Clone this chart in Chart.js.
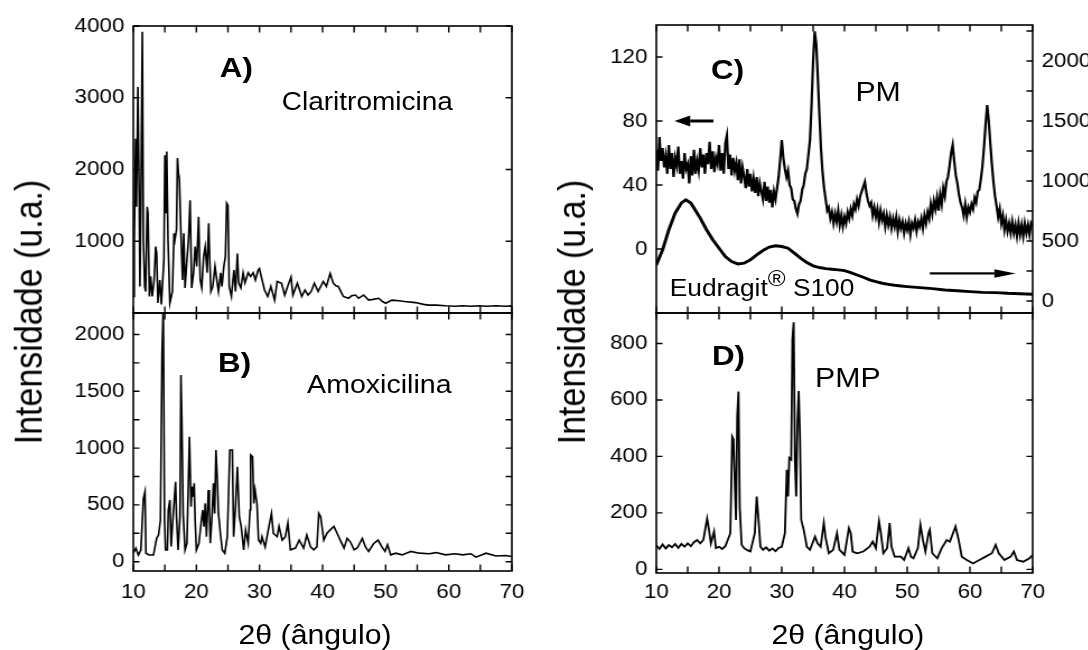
<!DOCTYPE html>
<html lang="pt">
<head>
<meta charset="utf-8">
<title>Difratogramas de raios X</title>
<script src="https://cdn.jsdelivr.net/npm/chart.js@4.4.1/dist/chart.umd.min.js"></script>
<style>
html,body{margin:0;padding:0;background:#fff;width:1088px;height:650px;overflow:hidden;}
#stage{position:absolute;left:0;top:0;width:972px;height:650px;transform:scaleX(1.12);transform-origin:0 0;}
canvas{position:absolute;}
.t{position:absolute;font-family:"Liberation Sans",Arial,sans-serif;color:#000;white-space:nowrap;line-height:1;transform:translate(-50%,-50%);}
.b{font-weight:bold;}
.rot{transform:translate(-50%,-50%) rotate(-90deg);}
.sup{position:relative;top:-0.42em;font-size:0.92em;}
</style>
</head>
<body>
<div id="stage">
  <canvas id="cA"></canvas>
  <canvas id="cB"></canvas>
  <canvas id="cC"></canvas>
  <canvas id="cD"></canvas>

  <div class="t b" style="left:211px;top:68px;font-size:28px">A)</div>
  <div class="t" style="left:328px;top:101px;font-size:25px">Claritromicina</div>
  <div class="t b" style="left:209.5px;top:363px;font-size:28px">B)</div>
  <div class="t" style="left:338.7px;top:384.5px;font-size:25.5px">Amoxicilina</div>
  <div class="t b" style="left:649.6px;top:70px;font-size:28px">C)</div>
  <div class="t" style="left:784px;top:92px;font-size:27px">PM</div>
  <div class="t" style="left:680.4px;top:288.5px;font-size:23.5px">Eudragit<span class="sup">®</span> S100</div>
  <div class="t b" style="left:650.4px;top:356px;font-size:28px">D)</div>
  <div class="t" style="left:757px;top:378px;font-size:27px">PMP</div>

  <div class="t rot" style="left:24.8px;top:311.5px;font-size:34px">Intensidade (u.a.)</div>
  <div class="t rot" style="left:509.7px;top:311.5px;font-size:34px">Intensidade (u.a.)</div>
  <div class="t" style="left:281.3px;top:634.5px;font-size:27px">2θ (ângulo)</div>
  <div class="t" style="left:757.1px;top:634.5px;font-size:27px">2θ (ângulo)</div>
</div>

<script>
// ---------------- data ----------------
const xTicks = [10, 15, 20, 25, 30, 35, 40, 45, 50, 55, 60, 65, 70];
const xTickLabels = [10, 20, 30, 40, 50, 60, 70];
const yTicksA  = [0, 1000, 2000, 3000, 4000];
const yLabelsA = [1000, 2000, 3000, 4000];
const yTicksB  = [0, 250, 500, 750, 1000, 1250, 1500, 1750, 2000];
const yLabelsB = [0, 500, 1000, 1500, 2000];
const yTicksCL  = [-40, 0, 40, 80, 120];
const yLabelsCL = [0, 40, 80, 120];
const yTicksCR  = [0, 250, 500, 750, 1000, 1250, 1500, 1750, 2000, 2250];
const yLabelsCR = [0, 500, 1000, 1500, 2000];
const yTicksD  = [0, 200, 400, 600, 800];
const yLabelsD = [0, 200, 400, 600, 800];

// A) Claritromicina
const claritroX = [
  10.0,10.15,10.37,10.5,10.73,10.94,11.05,11.2,11.43,11.6,
  11.8,11.95,12.2,12.33,12.55,12.75,13.0,13.3,13.55,13.7,
  13.9,14.2,14.45,14.85,15.0,15.15,15.3,15.5,15.8,16.2,
  16.45,16.6,16.85,17.0,17.15,17.3,17.55,17.8,18.0,18.2,
  18.5,18.75,19.0,19.25,19.55,19.8,20.05,20.35,20.6,20.85,
  21.15,21.4,21.7,21.95,22.1,22.3,22.6,22.95,23.3,23.5,
  23.85,24.05,24.35,24.6,24.8,25.0,25.2,25.55,25.95,26.2,
  26.5,26.7,27.05,27.4,27.7,28.2,28.6,29.0,29.35,29.8,
  30.0,30.3,30.8,31.3,31.8,32.4,32.8,33.5,34.0,34.5,
  35.0,35.3,36.0,36.7,37.2,37.7,38.2,38.7,39.3,40.1,
  40.6,41.2,41.7,42.1,42.5,43.0,43.3,44.1,44.6,45.2,
  45.7,46.5,47.3,48.0,48.9,49.5,50.0,51.0,52.1,53.0,
  54.7,56.0,56.8,58.0,59.5,61.0,62.2,63.5,64.8,66.0,
  67.5,69.0,70.0];
const claritroY = [
  230,950,2430,1480,3150,1600,370,1480,3920,1000,
  370,300,1480,1390,230,510,230,460,925,830,
  140,460,120,740,2200,1400,2250,1020,140,300,
  1110,1020,1160,2160,1950,1880,1110,460,1110,350,
  740,1020,1570,350,560,925,650,1340,460,350,
  790,925,560,1250,790,300,370,650,420,300,
  560,370,650,790,1530,1500,370,230,600,300,
  830,420,350,560,420,560,510,560,460,600,
  620,500,320,230,370,180,440,415,250,380,
  500,250,415,230,320,250,300,415,300,440,
  370,550,415,380,370,280,230,205,240,250,
  205,250,180,190,205,160,135,180,170,160,
  145,120,110,110,100,95,100,95,100,95,
  100,95,100];

// B) Amoxicilina
const amoxiX = [
  10.0,10.4,10.8,11.2,11.6,11.85,12.0,12.5,13.2,13.7,
  14.0,14.3,14.55,14.75,14.95,15.1,15.4,15.55,15.8,16.0,
  16.3,16.7,16.85,17.1,17.4,17.55,17.7,17.9,18.2,18.5,
  18.9,19.15,19.3,19.5,19.65,19.8,20.0,20.4,20.8,21.0,
  21.2,21.4,21.6,21.9,22.05,22.2,22.5,22.7,22.9,23.1,
  23.3,23.5,23.8,24.1,24.5,24.9,25.3,25.7,25.9,26.2,
  26.5,26.8,27.1,27.5,27.8,28.2,28.5,28.6,28.9,29.1,
  29.3,29.6,29.85,30.2,30.4,30.9,31.5,31.9,32.2,32.8,
  33.1,33.6,34.1,34.5,34.9,35.7,36.3,37.0,37.5,38.1,
  38.6,39.1,39.4,39.7,40.2,40.7,41.2,41.8,42.3,42.8,
  43.4,43.9,44.4,45.0,45.5,46.3,46.8,47.3,48.1,48.8,
  49.4,49.9,50.3,50.8,51.6,52.6,54.0,55.3,56.9,58.0,
  59.5,61.0,62.2,63.5,64.3,65.9,67.5,69.0,70.0];
const amoxiY = [
  74,118,59,103,558,616,74,59,59,206,
  235,367,1820,2250,367,103,103,455,543,133,
  396,704,396,103,396,1643,1247,425,103,162,
  1100,484,660,572,690,367,103,162,367,455,
  308,513,220,630,484,162,425,690,425,983,
  748,425,250,103,74,220,983,983,220,484,
  836,396,308,103,279,162,455,939,924,513,
  630,513,191,162,220,130,310,425,250,220,
  310,190,220,340,105,120,190,120,235,130,
  105,130,425,395,190,250,280,310,250,190,
  120,205,175,105,120,205,130,90,160,190,
  130,90,150,60,75,60,90,75,70,80,
  60,70,60,70,40,75,50,55,45];

// C) PM (left axis)
const pmX = [
  10,10.25,10.5,10.75, 11,11.25,11.5,11.75, 12,12.25,12.5,12.75, 13,13.25,13.5,13.75,
  14,14.25,14.5,14.75, 15,15.25,15.5,15.75, 16,16.25,16.5,16.75, 17,17.25,17.5,17.75,
  18,18.25,18.5,18.75, 19,19.25,19.5,19.75, 20,20.25,20.5,20.75, 21,21.25,21.5,21.75,
  22,22.25,22.5,22.75, 23,23.25,23.5,23.75, 24,24.25,24.5,24.75, 25,25.25,25.5,25.75,
  26,26.25,26.5,26.75, 27,27.25,27.5,27.75, 28,28.25,28.5,28.75, 29,29.25,29.5,29.75,
  30,30.25,30.5,30.75, 31,31.25,31.5,31.75, 32,32.25,32.5,32.75, 33,33.25,33.5,33.75,
  34,34.25,34.5,34.75, 35,35.25,35.5,35.75, 36,36.25,36.5,36.75, 37,37.25,37.5,37.75,
  38,38.25,38.5,38.75, 39,39.25,39.5,39.75, 40,40.25,40.5,40.75, 41,41.25,41.5,41.75,
  42,42.25,42.5,42.75, 43,43.25,43.5,43.75, 44,44.25,44.5,44.75, 45,45.25,45.5,45.75,
  46,46.25,46.5,46.75, 47,47.25,47.5,47.75, 48,48.25,48.5,48.75, 49,49.25,49.5,49.75,
  50,50.25,50.5,50.75, 51,51.25,51.5,51.75, 52,52.25,52.5,52.75, 53,53.25,53.5,53.75,
  54,54.25,54.5,54.75, 55,55.25,55.5,55.75, 56,56.25,56.5,56.75, 57,57.25,57.5,57.75,
  58,58.25,58.5,58.75, 59,59.25,59.5,59.75, 60,60.25,60.5,60.75, 61,61.25,61.5,61.75,
  62,62.25,62.5,62.75, 63,63.25,63.5,63.75, 64,64.25,64.5,64.75, 65,65.25,65.5,65.75,
  66,66.25,66.5,66.75, 67,67.25,67.5,67.75, 68,68.25,68.5,68.75, 69,69.25,69.5,69.75,
  70];
const pmY = [
  62,49,70,55, 63,51,58,47, 65,50,60,45, 57,52,64,47,
  55,44,60,50, 53,41,58,46, 62,47,55,49, 63,51,59,47,
  60,53,67,50, 61,48,57,53, 65,49,60,47, 66,71,50,59,
  46,57,49,54, 43,56,41,51, 45,38,50,39, 47,36,44,35,
  45,33,41,36, 31,42,30,39, 29,37,26,36, 31,38,45,56,
  68,57,50,45, 49,40,38,31, 30,25,22,28, 30,37,40,47,
  50,59,68,90, 118,136,128,107, 84,63,48,38, 31,24,26,19,
  23,16,22,17, 24,15,21,14, 20,16,23,19, 25,21,28,25,
  31,27,33,36, 39,42,35,30, 27,29,21,26, 20,25,17,24,
  18,22,14,21, 15,20,13,19, 14,20,11,18, 13,17,10,16,
  12,17,9,16, 13,18,11,17, 14,19,13,21, 16,23,19,28,
  22,30,25,32, 24,34,28,38, 33,42,45,52, 60,65,55,46,
  41,34,29,26, 21,28,20,26, 23,28,25,32, 29,36,37,44,
  52,64,78,90, 80,66,53,42, 33,27,20,25, 16,21,12,18,
  11,16,10,17, 10,15,8,16, 9,15,8,16, 10,15,9,16,
  14];

// C) Eudragit S100 (right axis)
const eudX = [10,11,12,13,14,14.7,15.5,16,17,18,19,20,21,22,23,24,25,26,27,28,29,30,31,32,33,34,35,36,37,38,39,40,41,42,43,44,45,46,47,48,49,50,52,54,56,58,60,62,64,66,68,70];
const eudY = [301,426,594,733,817,844,817,775,691,594,510,440,370,329,309,315,343,385,421,449,460,454,440,399,357,320,293,279,270,265,259,253,237,217,198,176,162,148,139,131,125,120,111,103,92,86,78,72,70,64,61,56];

// D) PMP
const pmpX = [
  10,10.5,11,11.5,12,12.5,13,13.5,14,14.5,
  15,15.5,16,16.5,17,17.5,18.1,18.4,18.7,19.2,
  19.5,20,20.5,21,21.8,22.1,22.3,22.6,22.7,22.9,
  23.1,23.3,23.6,24,24.5,25,25.7,26.0,26.3,26.6,
  27,27.5,28,28.5,29,29.5,30,30.5,30.8,31.0,
  31.2,31.5,31.7,31.9,32.1,32.3,32.5,32.7,32.9,33.1,
  33.5,34,34.5,35.3,35.7,36.2,36.7,37.0,37.5,38.2,
  38.8,39.2,40,40.7,41.0,41.3,42,43,44,44.5,
  45,45.5,45.8,46.2,46.8,47.2,47.5,48,49,49.5,
  50.2,50.6,51,51.7,52.1,52.5,52.9,53.4,53.6,54.0,
  54.8,55.5,56.3,56.8,57.3,57.7,58.2,58.7,59.5,60.5,
  61.5,62.5,63.5,64.1,64.6,65.5,66.5,67.0,67.5,68.5,
  69.5,70];
const pmpY = [
  85,72,88,74,86,78,90,76,90,80,
  92,82,96,104,92,104,180,140,92,134,
  75,80,72,82,128,470,460,245,175,543,
  630,220,87,75,68,63,128,258,175,80,
  69,78,66,74,64,76,80,128,353,258,
  395,389,815,875,389,258,519,632,472,175,
  140,80,69,116,92,80,164,110,57,69,
  128,69,51,146,128,63,57,63,80,98,
  75,170,128,57,75,164,80,45,45,33,
  75,45,39,75,158,104,63,128,140,57,
  39,75,104,98,128,152,104,45,33,21,
  33,45,57,87,57,33,45,63,33,27,
  39,51];

// ---------------- drawing ----------------
const FONT = '"Liberation Sans", Arial, sans-serif';
const PAD = 24, YW = 70, YRW = 70;
Chart.defaults.font.family = FONT;

function pts(xs, ys) { return xs.map((x, i) => ({ x: x, y: ys[i] })); }

const framePlugin = {
  id: 'frame',
  afterDatasetsDraw(chart, args, o) {
    const ctx = chart.ctx, a = chart.chartArea, xs = chart.scales.x;
    ctx.save();
    ctx.strokeStyle = '#000';
    ctx.lineWidth = 1.4;
    ctx.beginPath();
    xs.ticks.forEach(t => {
      if (t.value < xs.min || t.value > xs.max) return;
      const p = xs.getPixelForValue(t.value);
      ctx.moveTo(p, a.bottom); ctx.lineTo(p, a.bottom - 6.5);
      ctx.moveTo(p, a.top); ctx.lineTo(p, a.top + 6.5);
    });
    ['y', 'y2'].forEach(id => {
      const s = chart.scales[id];
      if (!s) return;
      const onLeft = s.position === 'left' || o.mirror;
      const onRight = s.position === 'right' || o.mirror;
      s.ticks.forEach(t => {
        if (t.value < s.min || t.value > s.max) return;
        const p = s.getPixelForValue(t.value);
        if (onLeft) { ctx.moveTo(a.left, p); ctx.lineTo(a.left + 5.5, p); }
        if (onRight) { ctx.moveTo(a.right, p); ctx.lineTo(a.right - 5.5, p); }
      });
    });
    ctx.stroke();
    ctx.lineWidth = 1.6;
    ctx.strokeRect(a.left, a.top, a.right - a.left, a.bottom - a.top);
    (o.arrows || []).forEach(ar => {
      const s = chart.scales[ar.axis];
      const y = s.getPixelForValue(ar.y);
      const tip = xs.getPixelForValue(ar.tip);
      const base = xs.getPixelForValue(ar.base);
      const tail = xs.getPixelForValue(ar.tail);
      ctx.fillStyle = '#000';
      ctx.fillRect(Math.min(base, tail), y - ar.thick / 2, Math.abs(tail - base), ar.thick);
      ctx.beginPath();
      ctx.moveTo(tip, y);
      ctx.lineTo(base, y - ar.head / 2);
      ctx.lineTo(base, y + ar.head / 2);
      ctx.closePath();
      ctx.fill();
    });
    ctx.restore();
  }
};

const tickFont = { family: FONT, size: 20 };

function yScale(ax, pos, w) {
  return {
    type: 'linear', position: pos, min: ax.min, max: ax.max,
    grid: { display: false, drawTicks: false }, border: { display: false },
    ticks: {
      autoSkip: false, padding: 8, color: '#000', font: tickFont,
      callback: v => (ax.labels.includes(v) ? String(v) : '')
    },
    afterBuildTicks: s => { s.ticks = ax.ticks.map(v => ({ value: v })); },
    afterFit: s => { s.width = w; }
  };
}

function makePanel(id, rect, o) {
  const cv = document.getElementById(id);
  const yRW = o.right ? YRW : 0;
  const xH = o.showX ? 40 : 0;
  const W = rect.w + 2 * PAD + YW + yRW;
  const H = rect.h + 2 * PAD + xH;
  cv.width = W; cv.height = H;
  cv.style.width = W + 'px'; cv.style.height = H + 'px';
  cv.style.left = (rect.l - PAD - YW) + 'px';
  cv.style.top = (rect.t - PAD) + 'px';

  const scales = {
    x: {
      type: 'linear', position: 'bottom', min: 10, max: 70,
      grid: { display: false, drawTicks: false }, border: { display: false },
      ticks: {
        display: o.showX, autoSkip: false, maxRotation: 0, minRotation: 0,
        padding: o.xPad || 8, color: '#000', font: tickFont,
        callback: v => (xTickLabels.includes(v) ? String(v) : '')
      },
      afterBuildTicks: s => { s.ticks = xTicks.map(v => ({ value: v })); },
      afterFit: s => { s.height = xH; }
    },
    y: yScale(o.left, 'left', YW)
  };
  if (o.right) scales.y2 = yScale(o.right, 'right', YRW);

  new Chart(cv, {
    type: 'scatter',
    data: { datasets: o.datasets },
    options: {
      responsive: false, animation: false, devicePixelRatio: 1,
      layout: { padding: PAD },
      scales: scales,
      plugins: {
        legend: { display: false }, tooltip: { enabled: false },
        frame: { mirror: !o.right, arrows: o.arrows || [] }
      },
      elements: { point: { radius: 0 }, line: { tension: 0 } }
    },
    plugins: [framePlugin]
  });
}

function line(xs, ys, w, axis) {
  return { data: pts(xs, ys), showLine: true, borderColor: '#000', borderWidth: w,
           pointRadius: 0, fill: false, yAxisID: axis || 'y' };
}

makePanel('cA', { l: 118.5, t: 26, w: 338, h: 287 }, {
  showX: false,
  left: { min: 0, max: 4000, ticks: yTicksA, labels: yLabelsA },
  datasets: [line(claritroX, claritroY, 1.6)]
});

makePanel('cB', { l: 118.5, t: 313, w: 338, h: 258 }, {
  showX: true, xPad: 9,
  left: { min: -82, max: 2189, ticks: yTicksB, labels: yLabelsB },
  datasets: [line(amoxiX, amoxiY, 1.6)]
});

makePanel('cC', { l: 586.3, t: 25, w: 336, h: 288 }, {
  showX: false,
  left: { min: -40, max: 140, ticks: yTicksCL, labels: yLabelsCL },
  right: { min: -100, max: 2300, ticks: yTicksCR, labels: yLabelsCR },
  datasets: [line(pmX, pmY, 2.2, 'y'), line(eudX, eudY, 2.9, 'y2')],
  arrows: [
    { axis: 'y', y: 80, tip: 12.9, base: 15.4, tail: 19.1, head: 11, thick: 3 },
    { axis: 'y2', y: 230, tip: 67.3, base: 63.9, tail: 53.6, head: 8.5, thick: 2.2 }
  ]
});

makePanel('cD', { l: 586.3, t: 313, w: 336, h: 260 }, {
  showX: true, xPad: 7,
  left: { min: -13, max: 908, ticks: yTicksD, labels: yLabelsD },
  datasets: [line(pmpX, pmpY, 1.8)]
});
</script>
</body>
</html>
